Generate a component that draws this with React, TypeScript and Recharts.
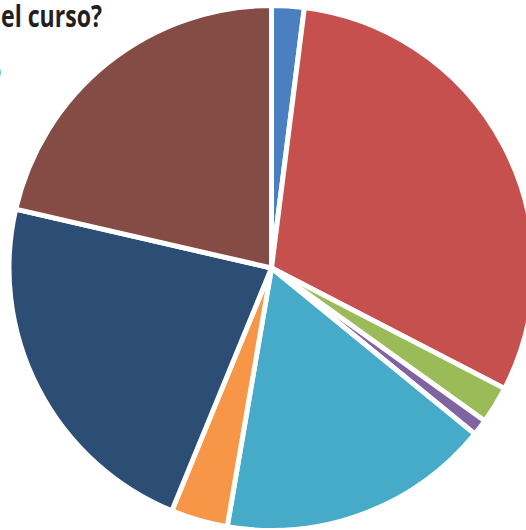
import { PieChart, Pie, Cell } from "recharts";

// answer shares, clockwise from 12 o'clock (percent of responses)
const categories = ["A", "B", "C", "D", "E", "F", "G", "H"];
const shares = [2.0, 30.6, 2.3, 1.0, 16.8, 3.5, 22.4, 21.4];
const colors = ["#4a80c2", "#c5504e", "#9bbb59", "#8064a2", "#45abc8", "#f79646", "#2c4e74", "#854c45"];

const titleLine = "el curso?";
const secondLine = "o";

const textStyle = {
  position: "absolute" as const,
  fontFamily: "'Open Sans', sans-serif",
  fontWeight: 700,
  fontSize: 30,
  color: "#231f20",
  whiteSpace: "nowrap" as const,
  transform: "scaleX(0.77)",
  transformOrigin: "left top",
};

export default function App() {
  const data = categories.map((name, i) => ({ name, value: shares[i] }));

  return (
    <div
      style={{
        position: "absolute",
        left: 0,
        top: 0,
        width: 526,
        height: 530,
        overflow: "hidden",
        background: "#fff",
      }}
    >
      <PieChart width={526} height={530} margin={{ top: 0, right: 0, bottom: 0, left: 0 }}>
        <Pie
          data={data}
          dataKey="value"
          nameKey="name"
          cx={271.5}
          cy={268}
          outerRadius={262.5}
          startAngle={90}
          endAngle={-270}
          stroke="#fff"
          strokeWidth={5}
          isAnimationActive={false}
        >
          {data.map((d, i) => (
            <Cell key={d.name} fill={colors[i]} />
          ))}
        </Pie>
      </PieChart>
      <div style={{ ...textStyle, left: 1, top: -5 }}>{titleLine}</div>
      <div style={{ ...textStyle, left: -13, top: 49 }}>{secondLine}</div>
    </div>
  );
}
